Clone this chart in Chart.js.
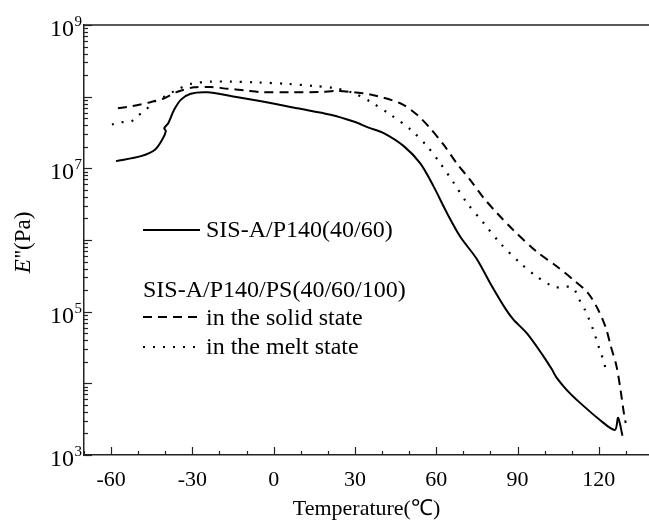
<!DOCTYPE html>
<html>
<head>
<meta charset="utf-8">
<script src="https://cdn.jsdelivr.net/npm/chart.js@4/dist/chart.umd.min.js"></script>
<style>
  html, body { margin: 0; padding: 0; background: #fff; }
  canvas { display: block; }
</style>
</head>
<body>
<canvas id="chart" width="649" height="528"></canvas>
<script>
// SIS-A/P140(40/60)
const solidT = [-58.2, -49.0, -43.8, -41.0, -39.8, -40.4, -38.9, -36.7, -34.2, -30.6, -24.4, -15.8, -3.6, 8.7, 21.0, 29.5, 35.0, 40.6, 48.0, 54.1, 59.0, 63.9, 68.8, 75.0, 79.9, 85.4, 88.4, 93.4, 99.5, 102.6, 104.4, 108.1, 111.8, 120.3, 125.9, 127.1, 128.7];
const solidE = [1.26e7, 1.48e7, 1.82e7, 2.57e7, 3.31e7, 3.63e7, 4.27e7, 6.6e7, 9.1e7, 1.10e8, 1.15e8, 1.02e8, 8.5e7, 6.9e7, 5.6e7, 4.5e7, 3.7e7, 3.1e7, 2.04e7, 1.17e7, 5.6e6, 2.4e6, 1.12e6, 5.4e5, 2.5e5, 1.12e5, 7.8e4, 5.0e4, 2.4e4, 1.58e4, 1.2e4, 8.1e3, 5.9e3, 3.1e3, 2.24e3, 3.3e3, 1.86e3];

// SIS-A/P140/PS(40/60/100), solid state
const dashT = [-57.5, -52.0, -45.9, -40.4, -35.5, -29.3, -23.2, -17.0, -10.9, -4.8, 6.2, 17.3, 23.4, 29.5, 35.7, 46.7, 52.9, 57.8, 62.7, 67.6, 72.5, 77.4, 82.3, 88.4, 97.0, 104.4, 110.5, 116.0, 119.7, 122.6, 124.4, 126.5, 128.0, 129.2, 129.9];
const dashE = [6.9e7, 7.4e7, 8.3e7, 9.5e7, 1.17e8, 1.35e8, 1.36e8, 1.29e8, 1.23e8, 1.16e8, 1.15e8, 1.16e8, 1.2e8, 1.15e8, 1.07e8, 8.1e7, 5.6e7, 3.6e7, 2.14e7, 1.17e7, 6.9e6, 3.9e6, 2.4e6, 1.38e6, 6.9e5, 4.3e5, 2.8e5, 1.82e5, 1.07e5, 5.9e4, 3.3e4, 1.74e4, 8.1e3, 3.9e3, 2.8e3];

// SIS-A/P140/PS(40/60/100), melt state
const dotT = [-59.7, -56.3, -52.6, -50.8, -47.1, -44.1, -40.4, -35.5, -30.6, -23.2, -15.8, -6.0, 5.0, 14.8, 22.2, 29.5, 35.7, 43.1, 50.4, 56.6, 61.5, 66.4, 71.3, 77.4, 83.5, 90.9, 97.0, 103.8, 107.5, 110.5, 112.6, 114.8, 116.4, 117.9, 119.1, 120.3, 121.6, 122.6];
const dotE = [4.1e7, 4.4e7, 4.5e7, 5.2e7, 6.6e7, 8.5e7, 1.0e8, 1.26e8, 1.51e8, 1.62e8, 1.62e8, 1.58e8, 1.51e8, 1.41e8, 1.32e8, 1.12e8, 8.5e7, 5.6e7, 3.5e7, 2.04e7, 1.17e7, 6.3e6, 3.3e6, 1.74e6, 9.1e5, 4.8e5, 3.1e5, 2.2e5, 2.24e5, 2.14e5, 1.51e5, 1.07e5, 7.8e4, 5.6e4, 4.1e4, 2.95e4, 2.14e4, 1.55e4];

const xLabels = [-60, -30, 0, 30, 60, 90, 120];
const yLabelExps = [3, 5, 7, 9];
const legendLabels = ['SIS-A/P140(40/60)', 'SIS-A/P140/PS(40/60/100)', 'in the solid state', 'in the melt state'];

const SERIF = '"Liberation Serif", "Times New Roman", serif';
const AXIS = '#222';

const pts = (xs, ys) => xs.map((x, i) => ({ x, y: ys[i] }));

// ticks, top border, y labels, y title and legend
const decor = {
    id: 'decor',
    afterDraw(chart) {
        const ctx = chart.ctx;
        const a = chart.chartArea;
        const xs = chart.scales.x, ys = chart.scales.y;
        ctx.save();
        ctx.strokeStyle = AXIS;
        ctx.lineWidth = 1.5;
        ctx.beginPath();
        ctx.moveTo(a.left, a.top);
        ctx.lineTo(chart.width, a.top);
        ctx.stroke();

        // x ticks, inward
        ctx.lineWidth = 1.2;
        for (let v = -70; v <= 130; v += 10) {
            const px = Math.round(xs.getPixelForValue(v)) + 0.5;
            const len = v % 30 === 0 ? 8 : 4;
            ctx.beginPath();
            ctx.moveTo(px, a.bottom);
            ctx.lineTo(px, a.bottom - len);
            ctx.stroke();
        }
        // y ticks, inward
        for (let e = 3; e <= 9; e++) {
            const py = Math.round(ys.getPixelForValue(Math.pow(10, e))) + 0.5;
            ctx.beginPath();
            ctx.moveTo(a.left, py);
            ctx.lineTo(a.left + 8, py);
            ctx.stroke();
            if (e === 9) continue;
            for (let k = 2; k <= 9; k++) {
                const my = Math.round(ys.getPixelForValue(k * Math.pow(10, e))) + 0.5;
                ctx.beginPath();
                ctx.moveTo(a.left, my);
                ctx.lineTo(a.left + 4, my);
                ctx.stroke();
            }
        }

        // y labels 10^n
        ctx.fillStyle = '#000';
        yLabelExps.forEach(e => {
            const py = ys.getPixelForValue(Math.pow(10, e));
            ctx.font = '24px ' + SERIF;
            ctx.textAlign = 'right';
            ctx.textBaseline = 'alphabetic';
            ctx.fillText('10', 74, py + 11);
            ctx.font = '15px ' + SERIF;
            ctx.textAlign = 'left';
            ctx.fillText(String(e), 74.5, py + 1);
        });

        // y title: E''(Pa), E in italic
        ctx.save();
        ctx.translate(24, 243);
        ctx.rotate(-Math.PI / 2);
        ctx.textBaseline = 'middle';
        ctx.textAlign = 'left';
        const fItal = 'italic 23px ' + SERIF, fNorm = '23px ' + SERIF;
        ctx.font = fItal;
        const wE = ctx.measureText('E').width;
        ctx.font = fNorm;
        const rest = "''(Pa)";
        const wR = ctx.measureText(rest).width;
        const x0 = -(wE + wR) / 2;
        ctx.font = fItal;
        ctx.fillText('E', x0, 0);
        ctx.font = fNorm;
        ctx.fillText(rest, x0 + wE + 1, 0);
        ctx.restore();

        // legend
        ctx.font = '24px ' + SERIF;
        ctx.textAlign = 'left';
        ctx.textBaseline = 'alphabetic';
        ctx.fillText(legendLabels[0], 206, 237);
        ctx.fillText(legendLabels[1], 143, 297);
        ctx.fillText(legendLabels[2], 206, 325);
        ctx.fillText(legendLabels[3], 206, 354);
        ctx.strokeStyle = '#000';
        ctx.lineWidth = 2;
        const sample = (y, dash) => {
            ctx.setLineDash(dash);
            ctx.beginPath();
            ctx.moveTo(143, y);
            ctx.lineTo(200, y);
            ctx.stroke();
        };
        sample(230, []);
        sample(317, [9, 6]);
        sample(347, [2, 8]);
        ctx.restore();
    }
};

new Chart(document.getElementById('chart'), {
    type: 'line',
    data: {
        datasets: [
            { label: legendLabels[0], data: pts(solidT, solidE), borderColor: '#000', borderWidth: 2, tension: 0.3 },
            { label: legendLabels[2], data: pts(dashT, dashE), borderColor: '#000', borderWidth: 2, borderDash: [9, 6], tension: 0.3 },
            { label: legendLabels[3], data: pts(dotT, dotE), borderColor: '#000', borderWidth: 2.2, borderDash: [2, 8], tension: 0.3 }
        ]
    },
    options: {
        responsive: false,
        animation: false,
        layout: { padding: { top: 25, right: 0, left: 0, bottom: 0 } },
        elements: { point: { radius: 0 } },
        plugins: { legend: { display: false }, tooltip: { enabled: false } },
        scales: {
            x: {
                type: 'linear', min: -70, max: 138.5,
                afterFit: s => { s.height = 73; s.paddingLeft = 0; s.paddingRight = 0; },
                grid: { display: false, drawTicks: false },
                border: { display: true, color: AXIS, width: 1.5 },
                ticks: {
                    stepSize: 10, autoSkip: false, maxRotation: 0, padding: 12,
                    color: '#000', font: { family: SERIF, size: 22 },
                    callback: v => xLabels.includes(v) ? String(v) : ''
                },
                title: {
                    display: true, text: 'Temperature(℃)', color: '#000',
                    font: { family: SERIF, size: 22 }, padding: { top: 0, bottom: 6 }
                }
            },
            y: {
                type: 'logarithmic', min: 1e3, max: 1e9,
                afterFit: s => { s.width = 84; },
                grid: { display: false, drawTicks: false },
                border: { display: true, color: AXIS, width: 1.5 },
                ticks: { display: false }
            }
        }
    },
    plugins: [decor]
});
</script>
</body>
</html>
